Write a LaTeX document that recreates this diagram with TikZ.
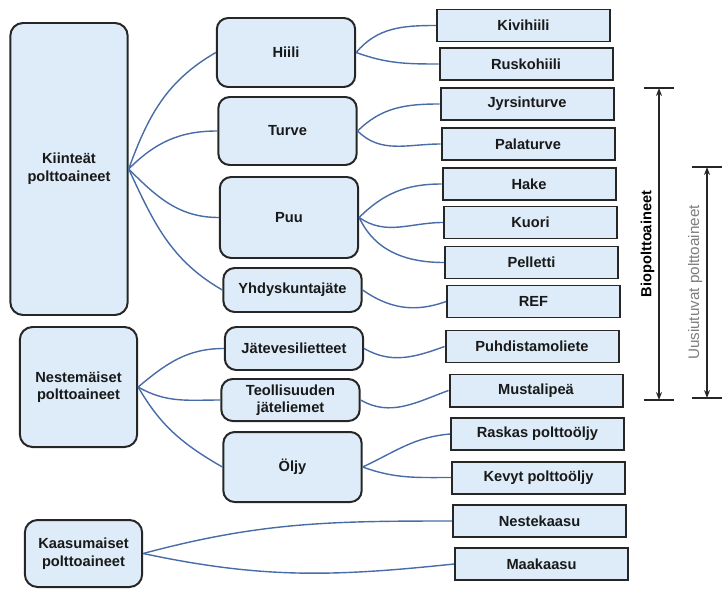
\documentclass[tikz,border=0pt]{standalone}
\usepackage{fontspec}
\setmainfont{Liberation Sans}
\usepackage{xcolor}
\usepackage{tikz}
\usetikzlibrary{arrows.meta}
\usetikzlibrary{positioning}
\definecolor{fuelfill}{RGB}{221,236,248}
\definecolor{fuelline}{RGB}{38,38,38}
\definecolor{linkblue}{RGB}{72,108,168}
\definecolor{renewgray}{RGB}{125,125,125}
\tikzset{%
  every fuel/.style={
    draw=fuelline,
    fill=fuelfill,
    line width=1.7pt,
    inner sep=0pt,
    align=center,
    text=black!90,
    font=\fontsize{12.5}{15}\selectfont\bfseries
  },
  fuel class/.style={
    every fuel,
    rounded corners=0.38cm,
    minimum width=3.52cm
  },
  fuel kind/.style={
    every fuel,
    rounded corners=0.34cm,
    minimum width=4.15cm
  },
  fuel item/.style={
    every fuel,
    minimum width=5.19cm,
    minimum height=0.96cm
  },
  fuel link/.style={
    draw=linkblue,
    line width=1.2pt
  },
  span bar/.style={
    draw=fuelline,
    line width=1.2pt
  },
}

\begin{document}
\begin{tikzpicture}[>={Stealth[length=2.4mm,width=1.8mm]}]

    \useasboundingbox (0,0) rectangle (21.69,-17.76);

    \node [fuel class, minimum height=8.76cm] (class-1) at (2.07,-5.07) {Kiinteät\\polttoaineet};
    \node [fuel class, minimum height=3.6cm] (class-2) at (2.355,-11.61) {Nestemäiset\\polttoaineet};
    \node [fuel class, minimum height=2.01cm] (class-3) at (2.505,-16.605) {Kaasumaiset\\polttoaineet};

    \foreach \l/\x/\y/\h [count=\i] in {Hiili/8.58/-1.575/2.07, Turve/8.625/-3.93/2.04,
        Puu/8.67/-6.525/2.43, Yhdyskuntajäte/8.775/-8.7/1.32, Jätevesilietteet/8.82/-10.455/1.29,
        {Teollisuuden\\jäteliemet}/8.715/-12.0/1.26, Öljy/8.775/-14.01/2.1}
    \node [fuel kind, minimum height=\h cm] (kind-\i) at (\x,\y) {\l};

    \foreach \l/\x/\y [count=\i] in {Kivihiili/15.705/-0.765, Ruskohiili/15.78/-1.92,
        Jyrsinturve/15.81/-3.12, Palaturve/15.84/-4.32, Hake/15.87/-5.52, Kuori/15.915/-6.675,
        Pelletti/15.945/-7.875, REF/16.005/-9.045, Puhdistamoliete/15.96/-10.395,
        Mustalipeä/16.08/-11.715, Raskas polttoöljy/16.125/-13.02, Kevyt polttoöljy/16.155/-14.325,
        Nestekaasu/16.185/-15.63, Maakaasu/16.245/-16.92}
    \node [fuel item] (item-\i) at (\x,\y) {\l};

    \foreach \a/\b/\o/\n in {1/1/70/210, 1/2/45/180, 1/3/-45/180, 1/4/-65/150,
        2/5/40/180, 2/6/-30/180, 2/7/-60/150}
        \draw [fuel link] (class-\a.east) to [out=\o, in=\n] (kind-\b.west);

    \foreach \a/\b/\o/\n in {1/1/50/180, 1/2/-20/180, 2/3/45/180, 2/4/-45/180,
        3/5/45/180, 3/6/-35/180, 3/7/-65/180, 4/8/-35/200, 5/9/-30/200,
        6/10/-30/200, 7/11/25/185, 7/12/-20/180}
        \draw [fuel link] (kind-\a.east) to [out=\o, in=\n] (item-\b.west);

    \foreach \b/\o/\n in {13/15/180, 14/-12/186}
        \draw [fuel link] (class-3.east) to [out=\o, in=\n] (item-\b.west);

    \coordinate (bio-top) at (19.77,-2.64);
    \coordinate (bio-bot) at (19.77,-12.0);
    \coordinate (renew-top) at (21.21,-5.01);
    \coordinate (renew-bot) at (21.21,-11.94);

    \foreach \c in {bio-top, bio-bot, renew-top, renew-bot}
        \draw [span bar] ([xshift=-0.46cm]\c) -- ([xshift=0.46cm]\c);

    \draw [span bar, <->] (bio-bot) -- (bio-top)
        node [midway, sloped, above, font=\fontsize{12.5}{15}\selectfont\bfseries] (bio-label) {Biopolttoaineet};
    \draw [span bar, <->] (renew-bot) -- (renew-top)
        node [midway, sloped, above, text=renewgray, font=\fontsize{13}{15}\selectfont] (renew-label) {Uusiutuvat polttoaineet};

\end{tikzpicture}
\end{document}
